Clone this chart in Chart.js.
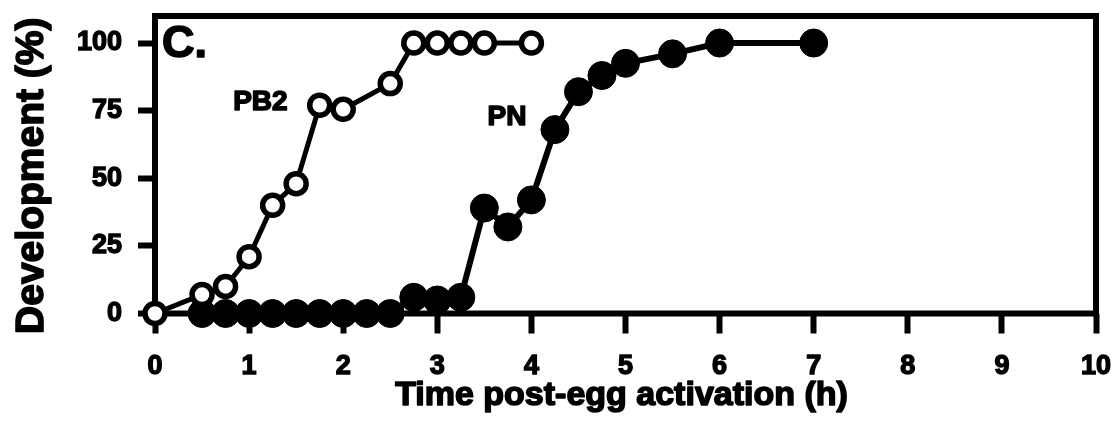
<!DOCTYPE html>
<html>
<head>
<meta charset="utf-8">
<script src="https://cdn.jsdelivr.net/npm/chart.js@4.4.1/dist/chart.umd.min.js"></script>
<style>
  html, body { margin: 0; padding: 0; background: #ffffff; }
  #wrap { width: 1117px; height: 421px; }
</style>
</head>
<body>
<div id="wrap"><canvas id="chart" width="1117" height="421"></canvas></div>
<script>
// Pronuclear development time course after egg activation
const pb2Hours   = [0, 0.5, 0.75, 1, 1.25, 1.5, 1.75, 2, 2.5, 2.75, 3, 3.25, 3.5, 4];
const pb2Percent = [0, 7, 10, 21, 40, 48, 77, 75.5, 85, 100, 100, 100, 100, 100];

const pnHours   = [0.5, 0.75, 1, 1.25, 1.5, 1.75, 2, 2.25, 2.5, 2.75, 3, 3.25, 3.5, 3.75, 4, 4.25, 4.5, 4.75, 5, 5.5, 6, 7];
const pnPercent = [0, 0, 0, 0, 0, 0, 0, 0, 0, 6, 5, 6, 39, 32, 42, 68, 82, 88, 92.5, 96, 100, 100];

const xTickValues = [0, 1, 2, 3, 4, 5, 6, 7, 8, 9, 10];
const xTickLabels = ['0', '1', '2', '3', '4', '5', '6', '7', '8', '9', '10'];
const yTickValues = [0, 25, 50, 75, 100];
const yTickLabels = ['0', '25', '50', '75', '100'];

const seriesNames = ['PB2', 'PN'];
const panelLetter = 'C.';
const xTitle = 'Time post-egg activation (h)';
const yTitle = 'Development (%)';

const toPoints = (xs, ys) => xs.map((x, i) => ({ x: x, y: ys[i] }));

const FONT = "'Liberation Sans', Arial, Helvetica, sans-serif";

// Heavy text: filled and outlined so the strokes read as black-weight type
function heavyText(ctx, text, x, y, size, align, baseline, rotation) {
  ctx.save();
  ctx.translate(x, y);
  if (rotation) ctx.rotate(rotation);
  ctx.font = 'bold ' + size + 'px ' + FONT;
  ctx.textAlign = align;
  ctx.textBaseline = baseline;
  ctx.lineJoin = 'round';
  ctx.lineWidth = 1.6;
  ctx.strokeStyle = '#000';
  ctx.fillStyle = '#000';
  ctx.fillText(text, 0, 0);
  ctx.strokeText(text, 0, 0);
  ctx.restore();
}

// Box around the plot area, drawn under the markers
const framePlugin = {
  id: 'frame',
  beforeDatasetsDraw(chart) {
    const { ctx, chartArea: a } = chart;
    ctx.save();
    ctx.lineWidth = 6;
    ctx.strokeStyle = '#000';
    ctx.strokeRect(a.left, a.top, a.right - a.left, a.bottom - a.top);
    ctx.restore();
  }
};

// Panel letter, series labels and axis titles
const textPlugin = {
  id: 'texts',
  afterDatasetsDraw(chart) {
    const { ctx, chartArea: a, scales } = chart;
    heavyText(ctx, panelLetter, a.left + 7, a.top + 29, 45, 'left', 'middle');
    heavyText(ctx, seriesNames[0], scales.x.getPixelForValue(1.12), scales.y.getPixelForValue(78), 28, 'center', 'middle');
    heavyText(ctx, seriesNames[1], scales.x.getPixelForValue(3.74), scales.y.getPixelForValue(72.5), 28, 'center', 'middle');
    // horizontal axis title, centred under the plot
    heavyText(ctx, xTitle, (a.left + a.right) / 2 - 4, a.bottom + 91, 34, 'center', 'alphabetic');
    // vertical axis title, reading upwards
    heavyText(ctx, yTitle, 43, (a.top + a.bottom) / 2 + 11, 39, 'center', 'alphabetic', -Math.PI / 2);
  }
};

const tickFont = { family: FONT, size: 27, weight: 'bold' };

new Chart(document.getElementById('chart'), {
  type: 'line',
  data: {
    datasets: [
      {
        label: seriesNames[0],
        data: toPoints(pb2Hours, pb2Percent),
        borderColor: '#000',
        borderWidth: 5,
        pointStyle: 'circle',
        pointRadius: 10,
        pointBorderWidth: 5.5,
        pointBackgroundColor: '#fff',
        pointBorderColor: '#000',
        tension: 0,
        clip: false
      },
      {
        label: seriesNames[1],
        data: toPoints(pnHours, pnPercent),
        borderColor: '#000',
        borderWidth: 6,
        pointStyle: 'circle',
        pointRadius: 14,
        pointBorderWidth: 1,
        pointBackgroundColor: '#000',
        pointBorderColor: '#000',
        tension: 0,
        clip: false
      }
    ]
  },
  options: {
    responsive: false,
    animation: false,
    events: [],
    devicePixelRatio: 1,
    layout: { padding: { left: 0, right: 21, top: 16, bottom: 0 } },
    plugins: {
      legend: { display: false },
      tooltip: { enabled: false }
    },
    scales: {
      x: {
        type: 'linear',
        min: 0,
        max: 10,
        afterBuildTicks: s => { s.ticks = xTickValues.map(v => ({ value: v })); },
        afterFit: s => {
          s.height = 107.5;
          s.paddingLeft = 0;
          s.paddingRight = 0;
        },
        border: { display: false },
        grid: {
          display: true,
          drawOnChartArea: false,
          drawTicks: true,
          tickLength: 20,
          tickWidth: 6,
          tickColor: '#000'
        },
        ticks: {
          color: '#000',
          font: tickFont,
          padding: 17,
          maxRotation: 0,
          autoSkip: false,
          textStrokeColor: '#000',
          textStrokeWidth: 1.4,
          callback: (v, i) => xTickLabels[i]
        },
        title: { display: false, text: xTitle }
      },
      y: {
        type: 'linear',
        min: 0,
        max: 110,
        afterBuildTicks: s => { s.ticks = yTickValues.map(v => ({ value: v })); },
        afterFit: s => {
          s.width = 155;
          s.paddingTop = 0;
          s.paddingBottom = 0;
        },
        border: { display: false },
        grid: {
          display: true,
          drawOnChartArea: false,
          drawTicks: true,
          tickLength: 17,
          tickWidth: 6,
          tickColor: '#000'
        },
        ticks: {
          color: '#000',
          font: tickFont,
          padding: 16,
          autoSkip: false,
          textStrokeColor: '#000',
          textStrokeWidth: 1.4,
          callback: (v, i) => yTickLabels[i]
        },
        title: { display: false, text: yTitle }
      }
    }
  },
  plugins: [framePlugin, textPlugin]
});
</script>
</body>
</html>
